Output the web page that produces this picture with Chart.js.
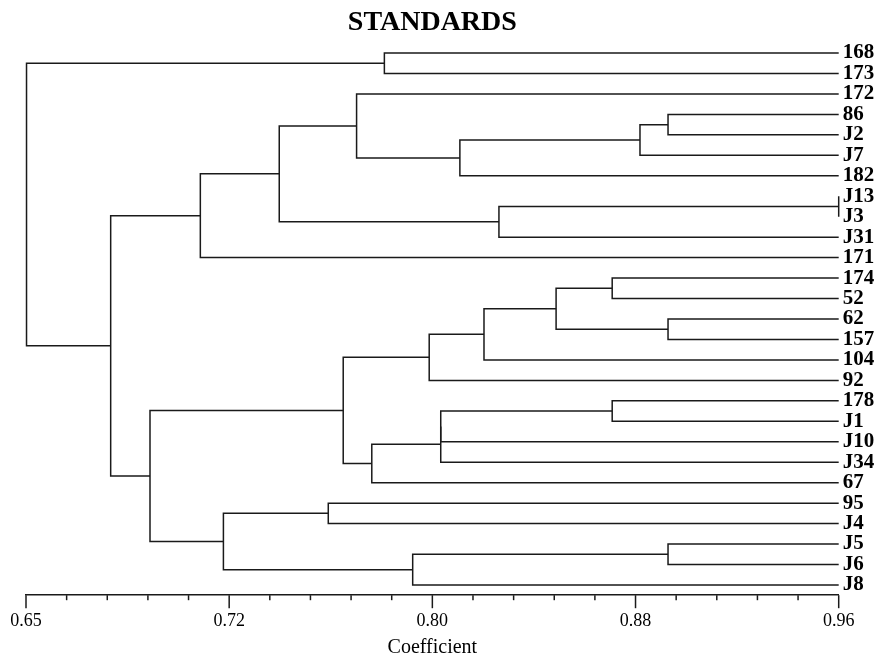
<!DOCTYPE html>
<html>
<head>
<meta charset="utf-8">
<title>STANDARDS</title>
<script src="https://cdn.jsdelivr.net/npm/chart.js@4.4.1/dist/chart.umd.min.js"></script>
<style>
  html, body { margin: 0; padding: 0; background: #fff; }
  #wrap { width: 881px; height: 660px; }
</style>
</head>
<body>
<div id="wrap"><canvas id="dendro" width="881" height="660"></canvas></div>
<script>
// DATA
const leaves = ["168","173","172","86","J2","J7","182","J13","J3","J31","171",
  "174","52","62","157","104","92","178","J1","J10","J34","67","95","J4","J5","J6","J8"];

// merges: ids below 27 are leaves, 27 and up are earlier merges (in this order)
const pairs = [
  [7,8],[3,4],[13,14],[24,25],[28,5],[11,12],[17,18],[32,29],[27,9],[34,15],
  [31,6],[33,19],[38,20],[36,16],[30,26],[0,1],[39,21],[2,37],[40,43],[22,23],
  [44,35],[46,41],[47,10],[45,48],[49,50],[42,51]
];
const heights = [
  0.96,0.8949,0.8949,0.8949,0.8842,0.8736,0.8736,0.8522,0.8304,0.8247,
  0.8155,0.8082,0.8082,0.8038,0.7975,0.7867,0.7819,0.7761,0.7710,0.7653,
  0.7466,0.7253,0.7165,0.6973,0.6823,0.6502
];

const chartTitle = "STANDARDS";
const axisMin = 0.65;
const axisMax = 0.96;
const axisStep = 0.0155;

// BUILD SEGMENTS
let nodeX = leaves.map(() => axisMax);
let nodeY = leaves.map((l, i) => i);

let datasets = [];
pairs.forEach((p, k) => {
  let a = p[0], b = p[1], h = heights[k];
  datasets.push({
    data: [
      {x: nodeX[a], y: nodeY[a]},
      {x: h, y: nodeY[a]},
      {x: h, y: nodeY[b]},
      {x: nodeX[b], y: nodeY[b]}
    ],
    showLine: true,
    borderColor: "#1a1a1a",
    borderWidth: 1.5,
    pointRadius: 0,
    tension: 0,
    clip: false
  });
  nodeX.push(h);
  nodeY.push((nodeY[a] + nodeY[b]) / 2);
});

// TICK MARKS + TITLE (title centred over the plot area, not the canvas)
const extras = {
  id: "extras",
  afterDraw(chart){
    let sx = chart.scales.x;
    let ctx = chart.ctx;
    let area = chart.chartArea;
    ctx.save();
    ctx.strokeStyle = "#1a1a1a";
    ctx.lineWidth = 1.5;
    sx.ticks.forEach((t, i) => {
      let px = sx.getPixelForValue(t.value);
      let len = i % 5 === 0 ? 13 : 5;
      ctx.beginPath();
      ctx.moveTo(px, sx.top);
      ctx.lineTo(px, sx.top + len);
      ctx.stroke();
    });
    ctx.fillStyle = "#000";
    ctx.font = "bold 28px 'Liberation Serif', serif";
    ctx.textAlign = "center";
    ctx.textBaseline = "middle";
    ctx.fillText(chartTitle, (area.left + area.right) / 2, 23);
    ctx.restore();
  }
};

// CHART
new Chart(document.getElementById("dendro"), {
  type: "scatter",
  data: { datasets },
  plugins: [extras],
  options: {
    responsive: false,
    animation: false,
    events: [],
    layout: { padding: { left: 26, top: 42.8, right: 0, bottom: 0 } },
    plugins: {
      legend: { display: false },
      tooltip: { enabled: false },
      title: { display: false }
    },
    scales: {
      x: {
        type: "linear",
        min: axisMin,
        max: axisMax,
        afterFit(s){ s.height = 64.8; },
        grid: { display: false, drawTicks: true, tickLength: 13 },
        border: { display: true, color: "#1a1a1a", width: 1.5 },
        ticks: {
          stepSize: axisStep,
          autoSkip: false,
          maxRotation: 0,
          padding: 2,
          color: "#000",
          font: { family: "'Liberation Serif', serif", size: 18 },
          callback: (v, i) => i % 5 === 0 ? (Math.floor(v * 100 + 1e-6) / 100).toFixed(2) : ""
        },
        title: {
          display: true,
          text: "Coefficient",
          color: "#000",
          font: { family: "'Liberation Serif', serif", size: 20 },
          padding: { top: 0, bottom: 0 }
        }
      },
      y: {
        type: "linear",
        position: "right",
        reverse: true,
        min: -0.5,
        max: leaves.length - 0.5,
        afterFit(s){ s.width = 42.3; },
        afterBuildTicks(s){ s.ticks = leaves.map((l, i) => ({ value: i })); },
        grid: { display: false, drawTicks: false },
        border: { display: false },
        ticks: {
          autoSkip: false,
          padding: 4,
          crossAlign: "near",
          color: "#000",
          font: { family: "'Liberation Serif', serif", size: 21, weight: "bold" },
          callback: v => leaves[v]
        }
      }
    }
  }
});
</script>
</body>
</html>
